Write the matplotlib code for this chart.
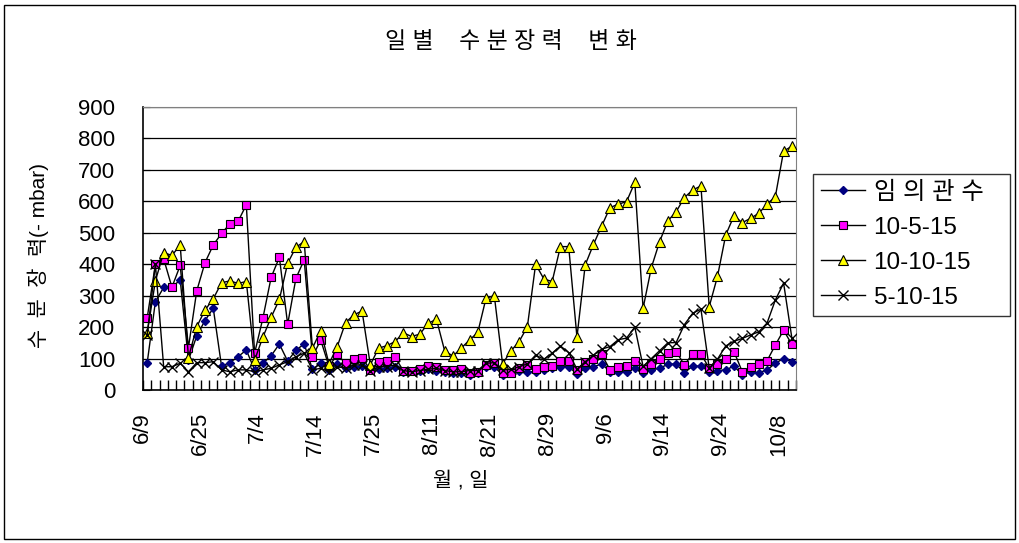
import numpy as np
import matplotlib.pyplot as plt
import matplotlib.transforms as mtransforms
from matplotlib.patches import Rectangle

plt.rcParams['font.family'] = ['Liberation Sans', 'Noto Sans CJK KR']

# 79 measurement days, a label every 7th day
tick_labels = ['6/9', '6/25', '7/4', '7/14', '7/25', '8/11', '8/21',
               '8/29', '9/6', '9/14', '9/24', '10/8']
label_step = 7
n_days = 79

series_names = ['임 의 관 수', '10-5-15', '10-10-15', '5-10-15']

random_irr = [85, 281, 326, 327, 350, 95, 172, 221, 260, 76, 87, 106, 127, 64, 85, 109, 146, 92, 127, 146,
              66, 85, 64, 82, 69, 74, 77, 72, 66, 69, 74, 58, 60, 62, 66, 62, 58,
              53, 53, 48, 55, 74, 74, 48, 53, 62, 58, 58, 64, 69, 74, 74, 51, 69, 74, 83,
              58, 58, 58, 69, 53, 64, 69, 82, 83, 55, 76, 76, 58, 62, 64, 76, 48, 58, 55, 64, 85,
              100, 90]

s_10_5_15 = [228, 400, 417, 327, 396, 135, 315, 405, 461, 498, 528, 536, 589, 117, 228, 358, 422, 209, 355, 414,
             106, 159, 75, 113, 85, 98, 103,
             64, 90, 93, 104, 61, 60, 68, 77, 73, 64,
             64, 66, 53, 58, 80, 87, 55, 55, 71, 80, 66, 74, 76, 93, 93, 64, 90, 98, 113,
             64, 72, 76, 93, 66, 83, 98, 119, 122, 80, 115, 115, 69, 83, 98, 122, 58, 72, 83, 93, 143,
             190, 145]

s_10_10_15 = [180, 347, 437, 428, 461, 103, 201, 254, 290, 341, 347, 339, 345, 95, 168, 231, 288, 403, 454, 472,
              133, 189, 83, 138, 214, 239, 251,
              80, 133, 141, 154, 182, 170, 178, 212, 225, 124, 108, 133, 159, 183, 292, 300, 83, 124, 154, 201,
              400, 353, 345, 456, 456,
              168, 398, 463, 522, 580, 591, 599, 660, 260, 389, 472, 538, 567, 612, 636, 649, 265, 361, 493, 554,
              532, 546, 562, 591, 615,
              760, 775]

s_5_10_15 = [175, 400, 74, 74, 85, 58, 87, 87, 90, 64, 58, 64, 64, 58, 64, 69, 80, 90, 106, 117,
             64, 69, 58, 74, 69, 80, 80, 60, 74, 74, 80, 62, 58, 62, 66, 69, 62,
             58, 58, 62, 62, 85, 87, 64, 66, 74, 83, 111, 98, 117, 140, 119, 66, 90, 111, 130,
             138, 160, 165, 200, 75, 100, 125, 150, 151, 208, 244, 257, 70, 98, 140, 155, 164, 175, 185, 213, 286,
             340, 165]

W, H = 1019, 543
fig = plt.figure(figsize=(W / 100, H / 100), dpi=100)
fig.patches.append(Rectangle((4 / W, 4 / H), 1 - 8 / W, 1 - 9 / H, transform=fig.transFigure,
                             fill=False, edgecolor='black', lw=1))

ax = fig.add_axes([143 / W, 1 - 390 / H, (796 - 143) / W, (390 - 107) / H])

x = np.arange(n_days)
ax.plot(x, random_irr, color='black', lw=1, marker='D', ms=4.4,
        mfc='#000080', mec='#000080', label=series_names[0], zorder=3)
ax.plot(x, s_10_5_15, color='black', lw=1, marker='s', ms=6.2,
        mfc='#ff00ff', mec='black', mew=0.8, label=series_names[1], zorder=4)
ax.plot(x, s_10_10_15, color='black', lw=1, marker='^', ms=7,
        mfc='#ffff00', mec='black', mew=0.8, label=series_names[2], zorder=5)
ax.plot(x, s_5_10_15, color='black', lw=1, marker='x', ms=7,
        mec='black', mew=1, label=series_names[3], zorder=6)

ax.set_xlim(-0.5, n_days - 0.5)
ax.set_ylim(0, 900)
ax.set_yticks(np.arange(0, 901, 100))
ax.yaxis.grid(True, color='black', lw=0.9)
ax.set_axisbelow(True)

ax.set_xticks(np.arange(0, n_days, label_step))
ax.set_xticklabels(tick_labels, rotation=90)
ax.set_xticks(np.arange(-0.5, n_days, 1), minor=True)
ax.tick_params(axis='x', which='major', length=0, pad=16, labelsize=16)
ax.tick_params(axis='x', which='minor', direction='in', length=7, width=1)
ax.tick_params(axis='y', direction='in', length=5, pad=20, labelsize=16)
shift = mtransforms.ScaledTranslation(-5 / 100, 0, fig.dpi_scale_trans)
for lab in ax.get_xticklabels():
    lab.set_transform(lab.get_transform() + shift)

for s in ['top', 'right']:
    ax.spines[s].set_color('#808080')
for s in ['left', 'bottom']:
    ax.spines[s].set_color('black')
    ax.spines[s].set_linewidth(1.2)

fig.text(511 / W, 1 - 41 / H, '일 별    수 분 장 력    변 화', ha='center', va='center', fontsize=16.5)
fig.text(461 / W, 1 - 481 / H, '월 , 일', ha='center', va='center', fontsize=15)
fig.text(38 / W, 1 - 256 / H, '수  분  장  력(- mbar)', ha='center', va='center',
         rotation=90, fontsize=15)

leg = fig.legend(loc='upper left', bbox_to_anchor=(813 / W, 1 - 324 / H, 197 / W, 150 / H),
                 mode='expand', fontsize=17.5,
                 frameon=True, fancybox=False, shadow=False, borderaxespad=0,
                 handlelength=1.8, handletextpad=0.37, labelspacing=0.53, borderpad=0.32)
leg.get_frame().set_edgecolor('black')
leg.get_frame().set_linewidth(1)

fig.savefig('out.png', dpi=100)
